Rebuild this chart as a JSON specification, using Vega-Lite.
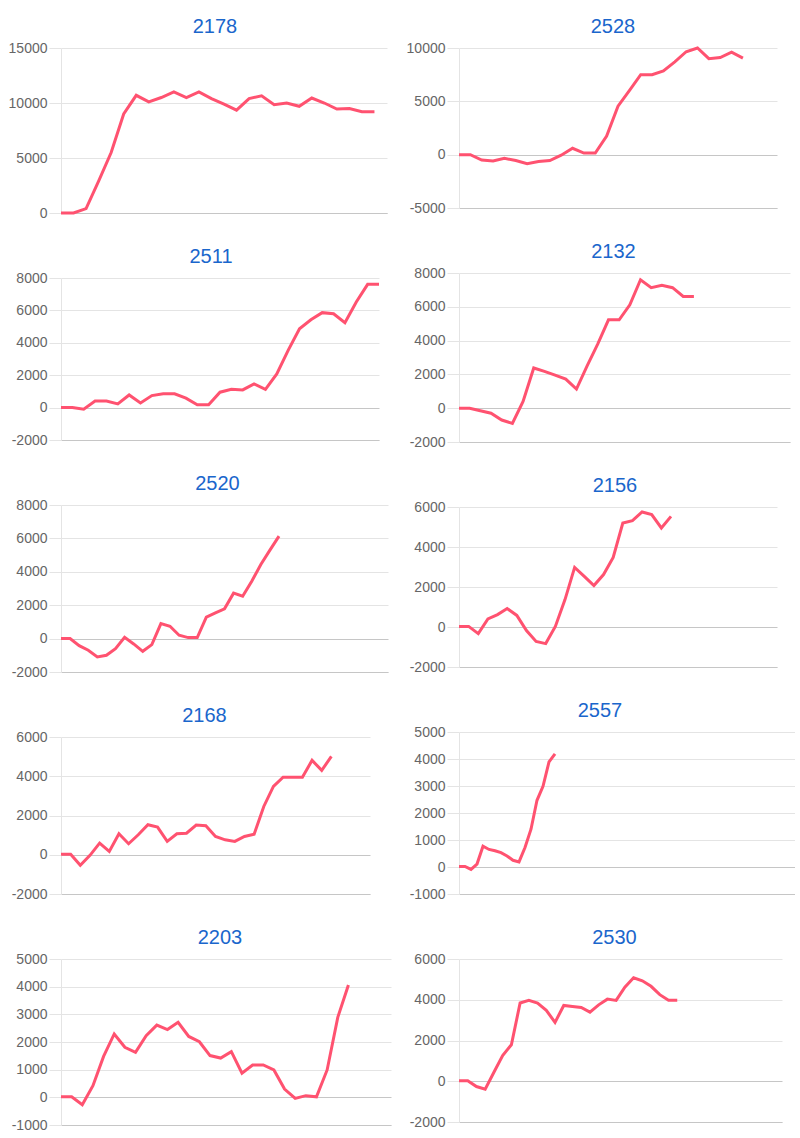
{
  "$schema": "https://vega.github.io/schema/vega-lite/v6.json",
  "background": "white",
  "padding": {"left": 8, "top": 17, "right": 0, "bottom": 0},
  "autosize": "pad",
  "config": {
    "view": {"stroke": null},
    "font": "Arial",
    "title": {"fontSize": 20, "fontWeight": "normal", "color": "#1a66cc", "font": "Arial", "anchor": "middle", "offset": 4},
    "line": {"color": "#ff5270", "strokeWidth": 3},
    "axisY": {
      "title": null,
      "labelFont": "Arial",
      "labelFontSize": 14,
      "labelColor": "#666666",
      "labelPadding": 2,
      "labelExpr": "datum.value + ''",
      "ticks": true,
      "tickSize": 12,
      "tickColor": "#e4e4e4",
      "domainColor": "#e4e4e4",
      "gridColor": {"condition": {"test": "datum.value === 0", "value": "#c6c6c6"}, "value": "#e4e4e4"},
      "labelFlush": false
    },
    "axisX": {
      "title": null,
      "labels": false,
      "ticks": false,
      "grid": false,
      "domainColor": "#c6c6c6"
    }
  },
  "datasets": {
    "d2178": [
      {"i":0,"v":0},{"i":1,"v":0},{"i":2,"v":400},{"i":3,"v":2900},{"i":4,"v":5500},{"i":5,"v":9000},{"i":6,"v":10700},{"i":7,"v":10100},{"i":8,"v":10500},{"i":9,"v":11000},{"i":10,"v":10500},{"i":11,"v":11000},{"i":12,"v":10400},{"i":13,"v":9900},{"i":14,"v":9350},{"i":15,"v":10400},{"i":16,"v":10650},{"i":17,"v":9850},{"i":18,"v":10000},{"i":19,"v":9700},{"i":20,"v":10450},{"i":21,"v":10000},{"i":22,"v":9450},{"i":23,"v":9500},{"i":24,"v":9200},{"i":25,"v":9200}
    ],
    "d2528": [
      {"i":0,"v":0},{"i":1,"v":0},{"i":2,"v":-500},{"i":3,"v":-600},{"i":4,"v":-350},{"i":5,"v":-550},{"i":6,"v":-850},{"i":7,"v":-650},{"i":8,"v":-550},{"i":9,"v":-50},{"i":10,"v":600},{"i":11,"v":150},{"i":12,"v":150},{"i":13,"v":1750},{"i":14,"v":4550},{"i":15,"v":6000},{"i":16,"v":7500},{"i":17,"v":7500},{"i":18,"v":7850},{"i":19,"v":8700},{"i":20,"v":9650},{"i":21,"v":10000},{"i":22,"v":9000},{"i":23,"v":9100},{"i":24,"v":9600},{"i":25,"v":9050}
    ],
    "d2511": [
      {"i":0,"v":0},{"i":1,"v":0},{"i":2,"v":-100},{"i":3,"v":400},{"i":4,"v":400},{"i":5,"v":230},{"i":6,"v":780},{"i":7,"v":290},{"i":8,"v":740},{"i":9,"v":850},{"i":10,"v":850},{"i":11,"v":580},{"i":12,"v":170},{"i":13,"v":170},{"i":14,"v":950},{"i":15,"v":1130},{"i":16,"v":1090},{"i":17,"v":1460},{"i":18,"v":1130},{"i":19,"v":2080},{"i":20,"v":3530},{"i":21,"v":4870},{"i":22,"v":5420},{"i":23,"v":5860},{"i":24,"v":5790},{"i":25,"v":5240},{"i":26,"v":6520},{"i":27,"v":7610},{"i":28,"v":7610}
    ],
    "d2132": [
      {"i":0,"v":0},{"i":1,"v":0},{"i":2,"v":-150},{"i":3,"v":-300},{"i":4,"v":-700},{"i":5,"v":-900},{"i":6,"v":400},{"i":7,"v":2380},{"i":8,"v":2180},{"i":9,"v":1960},{"i":10,"v":1720},{"i":11,"v":1130},{"i":12,"v":2510},{"i":13,"v":3800},{"i":14,"v":5230},{"i":15,"v":5230},{"i":16,"v":6120},{"i":17,"v":7600},{"i":18,"v":7130},{"i":19,"v":7270},{"i":20,"v":7130},{"i":21,"v":6610},{"i":22,"v":6610}
    ],
    "d2520": [
      {"i":0,"v":0},{"i":1,"v":0},{"i":2,"v":-420},{"i":3,"v":-700},{"i":4,"v":-1100},{"i":5,"v":-1000},{"i":6,"v":-600},{"i":7,"v":80},{"i":8,"v":-320},{"i":9,"v":-760},{"i":10,"v":-360},{"i":11,"v":900},{"i":12,"v":740},{"i":13,"v":200},{"i":14,"v":60},{"i":15,"v":60},{"i":16,"v":1280},{"i":17,"v":1540},{"i":18,"v":1780},{"i":19,"v":2720},{"i":20,"v":2540},{"i":21,"v":3440},{"i":22,"v":4440},{"i":23,"v":5300},{"i":24,"v":6140}
    ],
    "d2156": [
      {"i":0,"v":30},{"i":1,"v":30},{"i":2,"v":-330},{"i":3,"v":400},{"i":4,"v":620},{"i":5,"v":920},{"i":6,"v":580},{"i":7,"v":-180},{"i":8,"v":-720},{"i":9,"v":-830},{"i":10,"v":30},{"i":11,"v":1370},{"i":12,"v":2980},{"i":13,"v":2530},{"i":14,"v":2070},{"i":15,"v":2620},{"i":16,"v":3480},{"i":17,"v":5200},{"i":18,"v":5320},{"i":19,"v":5750},{"i":20,"v":5620},{"i":21,"v":4950},{"i":22,"v":5530}
    ],
    "d2168": [
      {"i":0,"v":30},{"i":1,"v":30},{"i":2,"v":-540},{"i":3,"v":-30},{"i":4,"v":590},{"i":5,"v":170},{"i":6,"v":1070},{"i":7,"v":560},{"i":8,"v":1020},{"i":9,"v":1530},{"i":10,"v":1410},{"i":11,"v":680},{"i":12,"v":1070},{"i":13,"v":1100},{"i":14,"v":1510},{"i":15,"v":1480},{"i":16,"v":930},{"i":17,"v":760},{"i":18,"v":680},{"i":19,"v":930},{"i":20,"v":1050},{"i":21,"v":2460},{"i":22,"v":3480},{"i":23,"v":3950},{"i":24,"v":3950},{"i":25,"v":3950},{"i":26,"v":4810},{"i":27,"v":4300},{"i":28,"v":5010}
    ],
    "d2557": [
      {"i":0,"v":20},{"i":1,"v":20},{"i":2,"v":-90},{"i":3,"v":110},{"i":4,"v":770},{"i":5,"v":650},{"i":6,"v":600},{"i":7,"v":530},{"i":8,"v":410},{"i":9,"v":250},{"i":10,"v":190},{"i":11,"v":720},{"i":12,"v":1400},{"i":13,"v":2470},{"i":14,"v":2990},{"i":15,"v":3890},{"i":16,"v":4190}
    ],
    "d2203": [
      {"i":0,"v":20},{"i":1,"v":20},{"i":2,"v":-270},{"i":3,"v":420},{"i":4,"v":1480},{"i":5,"v":2290},{"i":6,"v":1810},{"i":7,"v":1630},{"i":8,"v":2230},{"i":9,"v":2610},{"i":10,"v":2450},{"i":11,"v":2710},{"i":12,"v":2200},{"i":13,"v":2010},{"i":14,"v":1510},{"i":15,"v":1420},{"i":16,"v":1650},{"i":17,"v":870},{"i":18,"v":1170},{"i":19,"v":1170},{"i":20,"v":990},{"i":21,"v":300},{"i":22,"v":-40},{"i":23,"v":60},{"i":24,"v":20},{"i":25,"v":990},{"i":26,"v":2890},{"i":27,"v":4060}
    ],
    "d2530": [
      {"i":0,"v":30},{"i":1,"v":30},{"i":2,"v":-260},{"i":3,"v":-390},{"i":4,"v":440},{"i":5,"v":1260},{"i":6,"v":1790},{"i":7,"v":3840},{"i":8,"v":3970},{"i":9,"v":3840},{"i":10,"v":3480},{"i":11,"v":2890},{"i":12,"v":3720},{"i":13,"v":3670},{"i":14,"v":3620},{"i":15,"v":3390},{"i":16,"v":3750},{"i":17,"v":4030},{"i":18,"v":3970},{"i":19,"v":4620},{"i":20,"v":5080},{"i":21,"v":4930},{"i":22,"v":4660},{"i":23,"v":4250},{"i":24,"v":3970},{"i":25,"v":3970}
    ]
  },
  "spacing": 15,
  "hconcat": [
    {
      "bounds": "flush",
      "spacing": 65,
      "vconcat": [
        {
          "title": {"text": "2178", "dx": -9},
          "width": 326, "height": 165,
          "data": {"name": "d2178"},
          "mark": "line",
          "encoding": {
            "x": {"field": "i", "type": "quantitative", "scale": {"domain": [0, 26], "nice": false, "zero": false}},
            "y": {"field": "v", "type": "quantitative", "scale": {"domain": [0, 15000], "nice": false}, "axis": {"values": [0, 5000, 10000, 15000]}}
          }
        },
        {
          "title": {"text": "2511", "dx": -9},
          "width": 318, "height": 162,
          "data": {"name": "d2511"},
          "mark": "line",
          "encoding": {
            "x": {"field": "i", "type": "quantitative", "scale": {"domain": [0, 28], "nice": false, "zero": false}},
            "y": {"field": "v", "type": "quantitative", "scale": {"domain": [-2000, 8000], "nice": false}, "axis": {"values": [-2000, 0, 2000, 4000, 6000, 8000]}}
          }
        },
        {
          "title": {"text": "2520", "dx": -7},
          "width": 327, "height": 167,
          "data": {"name": "d2520"},
          "mark": "line",
          "encoding": {
            "x": {"field": "i", "type": "quantitative", "scale": {"domain": [0, 36], "nice": false, "zero": false}},
            "y": {"field": "v", "type": "quantitative", "scale": {"domain": [-2000, 8000], "nice": false}, "axis": {"values": [-2000, 0, 2000, 4000, 6000, 8000]}}
          }
        },
        {
          "title": {"text": "2168", "dx": -11},
          "width": 309, "height": 157,
          "data": {"name": "d2168"},
          "mark": "line",
          "encoding": {
            "x": {"field": "i", "type": "quantitative", "scale": {"domain": [0, 32], "nice": false, "zero": false}},
            "y": {"field": "v", "type": "quantitative", "scale": {"domain": [-2000, 6000], "nice": false}, "axis": {"values": [-2000, 0, 2000, 4000, 6000]}}
          }
        },
        {
          "title": {"text": "2203", "dx": -6},
          "width": 330, "height": 166,
          "data": {"name": "d2203"},
          "mark": "line",
          "encoding": {
            "x": {"field": "i", "type": "quantitative", "scale": {"domain": [0, 31], "nice": false, "zero": false}},
            "y": {"field": "v", "type": "quantitative", "scale": {"domain": [-1000, 5000], "nice": false}, "axis": {"values": [-1000, 0, 1000, 2000, 3000, 4000, 5000]}}
          }
        }
      ]
    },
    {
      "bounds": "flush",
      "spacing": 65,
      "vconcat": [
        {
          "title": {"text": "2528", "dx": -5},
          "width": 318, "height": 160,
          "data": {"name": "d2528"},
          "mark": "line",
          "encoding": {
            "x": {"field": "i", "type": "quantitative", "scale": {"domain": [0, 28], "nice": false, "zero": false}},
            "y": {"field": "v", "type": "quantitative", "scale": {"domain": [-5000, 10000], "nice": false}, "axis": {"values": [-5000, 0, 5000, 10000]}}
          }
        },
        {
          "title": {"text": "2132", "dx": -11},
          "width": 331, "height": 169,
          "data": {"name": "d2132"},
          "mark": "line",
          "encoding": {
            "x": {"field": "i", "type": "quantitative", "scale": {"domain": [0, 31], "nice": false, "zero": false}},
            "y": {"field": "v", "type": "quantitative", "scale": {"domain": [-2000, 8000], "nice": false}, "axis": {"values": [-2000, 0, 2000, 4000, 6000, 8000]}}
          }
        },
        {
          "title": {"text": "2156", "dx": -3},
          "width": 318, "height": 160,
          "data": {"name": "d2156"},
          "mark": "line",
          "encoding": {
            "x": {"field": "i", "type": "quantitative", "scale": {"domain": [0, 33], "nice": false, "zero": false}},
            "y": {"field": "v", "type": "quantitative", "scale": {"domain": [-2000, 6000], "nice": false}, "axis": {"values": [-2000, 0, 2000, 4000, 6000]}}
          }
        },
        {
          "title": {"text": "2557", "dx": -27},
          "width": 336, "height": 162,
          "data": {"name": "d2557"},
          "mark": "line",
          "encoding": {
            "x": {"field": "i", "type": "quantitative", "scale": {"domain": [0, 56], "nice": false, "zero": false}},
            "y": {"field": "v", "type": "quantitative", "scale": {"domain": [-1000, 5000], "nice": false}, "axis": {"values": [-1000, 0, 1000, 2000, 3000, 4000, 5000]}}
          }
        },
        {
          "title": {"text": "2530", "dx": -6},
          "width": 323, "height": 163,
          "data": {"name": "d2530"},
          "mark": "line",
          "encoding": {
            "x": {"field": "i", "type": "quantitative", "scale": {"domain": [0, 37], "nice": false, "zero": false}},
            "y": {"field": "v", "type": "quantitative", "scale": {"domain": [-2000, 6000], "nice": false}, "axis": {"values": [-2000, 0, 2000, 4000, 6000]}}
          }
        }
      ]
    }
  ]
}
